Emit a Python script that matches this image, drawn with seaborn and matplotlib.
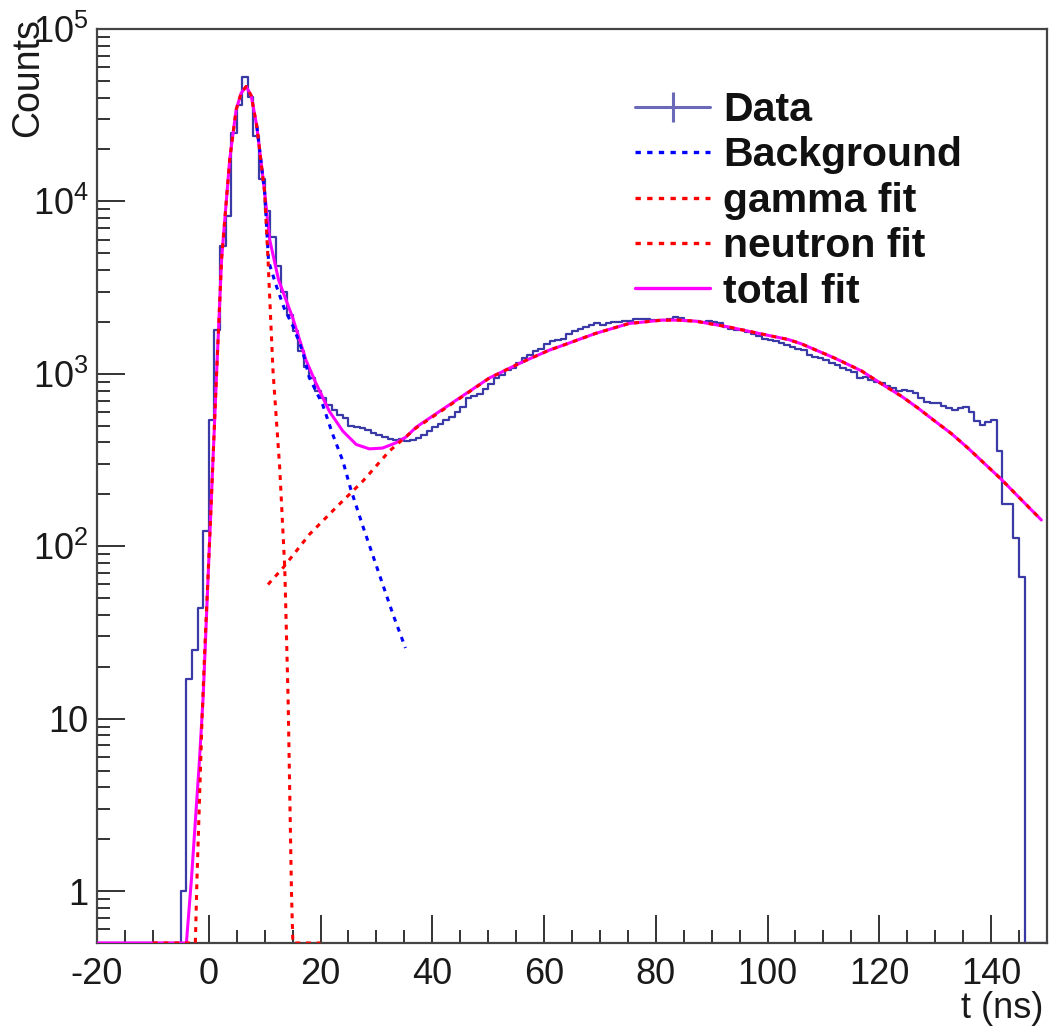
import numpy as np
import pandas as pd
import seaborn as sns
import matplotlib.pyplot as plt
from matplotlib.lines import Line2D
from matplotlib.ticker import FixedLocator, FuncFormatter, LogLocator, MultipleLocator

# Data: time-of-flight histogram, 1 ns bins starting at -5 ns
bin_start = -5
counts = [1, 17, 25, 44, 123, 540, 1800, 5500, 8200, 25000,
          36000, 52600, 40500, 23800, 13400, 8800, 6200, 4240, 3000, 2180,
          1760, 1350, 1100, 950, 800, 720, 660, 620, 580, 555,
          500, 490, 485, 470, 455, 440, 430, 420, 415, 420,
          410, 415, 425, 440, 465, 490, 510, 540, 560, 600,
          640, 720, 740, 760, 820, 870, 940, 990, 1050, 1080,
          1150, 1230, 1280, 1350, 1400, 1480, 1540, 1570, 1600, 1700,
          1760, 1830, 1880, 1920, 1960, 1930, 1960, 2000, 2010, 2020,
          2030, 2090, 2080, 2070, 2060, 2050, 2040, 2080, 2140, 2100,
          2030, 2020, 2020, 2010, 2020, 2000, 1960, 1880, 1830, 1800,
          1790, 1740, 1700, 1650, 1600, 1570, 1540, 1500, 1470, 1440,
          1400, 1375, 1286, 1260, 1230, 1200, 1160, 1125, 1077, 1050,
          1030, 943, 964, 922, 900, 882, 850, 826, 790, 808,
          790, 773, 723, 690, 677, 677, 647, 630, 615, 633,
          640, 600, 530, 507, 525, 542, 356, 175, 175, 112,
          66]

# fit components, sampled from the drawn curves (values below the axis sit on the floor)
gamma_t = [-10, -2.4, -2.1, -1.2, -0.7, 0.2, 1.4, 2.3, 3.75, 4.9, 5.8, 6.7, 7.6, 8.6,
           10.0, 10.6, 11.5, 12.7, 13.6, 14.2, 14.8, 15.05, 20]
gamma_y = [0.5, 0.5, 1.2, 10, 26, 117, 1000, 4650, 17500, 34000, 42500, 46400, 41000, 27300,
           11300, 4650, 1035, 285, 75, 13, 1, 0.5, 0.5]

bkg_t = [8.6, 10.0, 10.7, 12.0, 13.5, 15.2, 16.8, 18.0, 20.4, 22.2, 24.0, 25.4, 27.6,
         30.7, 33.0, 35.2]
bkg_y = [27300, 11300, 4500, 3300, 2400, 1850, 1350, 950, 660, 444, 312, 215, 130,
         66, 40, 25.7]

neutron_t = [10.6, 13.3, 18.0, 22.8, 27.6, 32.3, 37.1, 42.4, 50.2, 56.1, 60.9, 63.3, 69.2,
             75.2, 81.1, 84.1, 87.1, 93.0, 99.0, 103.75, 106.1, 112.1, 116.8, 121.0, 124.0,
             127.0, 130.0, 132.9, 135.9, 138.9, 141.8, 144.8, 149.0]
neutron_y = [60, 75, 117, 168, 239, 356, 485, 633, 945, 1170, 1370, 1460, 1714,
             1958, 2048, 2048, 2020, 1870, 1700, 1580, 1490, 1230, 1040, 850, 740,
             630, 530, 450, 370, 300, 245, 195, 142]

total_t = [-20, -4.0, -3.1, -1.7, -1.0, 0.2, 1.4, 2.3, 3.75, 4.9, 5.8, 6.7, 7.6, 8.6,
           10.0, 10.9, 12.5, 15.05, 17.4, 19.2, 21.6, 24.0, 26.4, 28.75, 31.1, 33.5, 35.3,
           37.1, 42.4, 50.2, 56.1, 60.9, 63.3, 69.2, 75.2, 81.1, 84.1, 87.1, 93.0, 99.0,
           103.75, 106.1, 112.1, 116.8, 121.0, 124.0, 127.0, 130.0, 132.9, 135.9, 138.9,
           141.8, 144.8, 149.0]
total_y = [0.5, 0.5, 1.17, 5.5, 13.4, 117, 1000, 4650, 17500, 34000, 42500, 46400, 41000, 27300,
           11300, 6000, 3500, 2100, 1200, 880, 605, 465, 389, 367, 371, 398, 430,
           490, 640, 945, 1170, 1370, 1460, 1714, 1958, 2048, 2048, 2020, 1870, 1700,
           1580, 1490, 1230, 1040, 850, 740, 630, 530, 450, 370, 300,
           245, 195, 142]

y_min, y_max = 0.5, 1e5

# Style
sns.set_theme(style="white")
plt.rcParams['font.family'] = ['Liberation Sans', 'DejaVu Sans']
plt.rcParams['mathtext.default'] = 'regular'
plt.rcParams['axes.unicode_minus'] = False

fig = plt.figure(figsize=(10.52, 10.27), dpi=100)
ax = fig.add_axes([0.0922, 0.0818, 0.903, 0.89])
ax.set_yscale('log')

# histogram as a step line, empty bins drawn on the floor like ROOT does
edges = np.arange(-20, 151)
full = np.zeros(len(edges) - 1)
i0 = bin_start + 20
full[i0:i0 + len(counts)] = counts
steps = np.maximum(np.append(full, full[-1]), y_min)
df_hist = pd.DataFrame({'t': edges, 'n': steps})

data_col = '#3a3aa6'
sns.lineplot(data=df_hist, x='t', y='n', drawstyle='steps-post', color=data_col,
             lw=1.6, estimator=None, sort=False, ax=ax, zorder=2)

dots = (0, (1.6, 1.9))
sns.lineplot(x=total_t, y=total_y, color='#ff00ff', lw=2.2, estimator=None, sort=False,
             ax=ax, zorder=3)
sns.lineplot(x=bkg_t, y=bkg_y, color='#0000ff', lw=2.2, linestyle=dots, estimator=None,
             sort=False, ax=ax, zorder=4)
sns.lineplot(x=gamma_t, y=gamma_y, color='#ff0000', lw=2.2, linestyle=dots, estimator=None,
             sort=False, ax=ax, zorder=5)
sns.lineplot(x=neutron_t, y=neutron_y, color='#ff0000', lw=2.2, linestyle=dots, estimator=None,
             sort=False, ax=ax, zorder=6)

ax.set_xlim(-20, 150)
ax.set_ylim(y_min, y_max)

# ticks, ROOT-like: inside, left and bottom only
ax.xaxis.set_major_locator(MultipleLocator(20))
ax.xaxis.set_minor_locator(MultipleLocator(5))
ax.yaxis.set_major_locator(FixedLocator([1, 10, 100, 1e3, 1e4, 1e5]))
ax.yaxis.set_minor_locator(LogLocator(base=10, subs=np.arange(2, 10)))


def ylab(v, pos):
    if v < 5:
        return '1'
    if v < 50:
        return '10'
    return r'$10^{%d}$' % round(np.log10(v))


ax.yaxis.set_major_formatter(FuncFormatter(ylab))
ax.yaxis.set_minor_formatter(FuncFormatter(lambda v, p: ''))

ax.tick_params(which='both', direction='in', bottom=True, left=True, top=False, right=False,
               color='#333333', labelcolor='#1a1a1a', width=1.4, labelsize=26)
ax.tick_params(which='major', length=20)
ax.tick_params(which='minor', length=9.5)
ax.tick_params(axis='x', pad=10)
ax.tick_params(axis='y', pad=6)
for s in ax.spines.values():
    s.set_color('#444444')
    s.set_linewidth(1.6)

ax.set_xlabel('t (ns)', fontsize=26, loc='right', color='#1a1a1a')
ax.xaxis.set_label_coords(0.996, -0.052)
ax.set_ylabel('Counts', fontsize=27, loc='top', color='#1a1a1a')
ax.yaxis.set_label_coords(-0.054, 1.012)

# legend
handles = [
    Line2D([], [], color='#6a6ab8', lw=2.2, marker='|', markersize=22, mew=2.2),
    Line2D([], [], color='#0000ff', lw=2.4, linestyle=dots),
    Line2D([], [], color='#ff0000', lw=2.4, linestyle=dots),
    Line2D([], [], color='#ff0000', lw=2.4, linestyle=dots),
    Line2D([], [], color='#ff00ff', lw=2.4),
]
labels = ['Data', 'Background', 'gamma fit', 'neutron fit', 'total fit']
leg = ax.legend(handles, labels, loc='upper left', bbox_to_anchor=(0.566, 0.932),
                frameon=False, prop={'size': 29.5, 'weight': 'bold'}, handlelength=1.85,
                handletextpad=0.3, labelspacing=0.18, borderpad=0, borderaxespad=0)
for t in leg.get_texts():
    t.set_color('#111111')

fig.savefig('out.png', dpi=100)
